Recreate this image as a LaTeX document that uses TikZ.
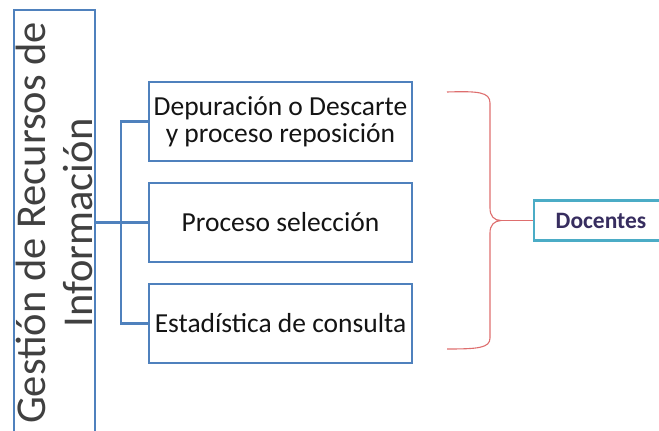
\documentclass[tikz,border=0pt]{standalone}
\usepackage{fontspec}
\setmainfont{Carlito}
\definecolor{boxblue}{RGB}{79,129,189}
\definecolor{tealc}{RGB}{75,172,198}
\definecolor{bracered}{RGB}{222,110,110}
\definecolor{gtext}{RGB}{64,64,64}
\definecolor{btext}{RGB}{20,20,20}
\definecolor{dtext}{RGB}{55,45,95}
\tikzset{
  sbox/.style={draw=boxblue, line width=2.4pt, minimum width=263pt, minimum height=79pt, inner sep=0pt, align=center, text=btext, font=\fontsize{27.5}{27}\selectfont},
  conn/.style={draw=boxblue, line width=2.4pt},
  bigbox/.style={draw=boxblue, line width=2.4pt, rotate=90, minimum width=426pt, minimum height=81pt, inner sep=0pt, align=center, text=gtext, font=\fontsize{42.5}{47}\selectfont},
  docbox/.style={draw=tealc, line width=2.4pt, minimum width=134pt, minimum height=40pt, inner sep=0pt, text=dtext, font=\fontsize{23.5}{25}\selectfont\bfseries},
  brace/.style={draw=bracered, line width=1.1pt}
}
\begin{document}
\begin{tikzpicture}[x=1pt,y=-1pt]
\useasboundingbox (0,0) rectangle (659,431);
\node[bigbox] (g) at (54.5,223) {Gestión de Recursos de\\Información};
\node[sbox] (b1) at (280.5,121.5) {Depuración o Descarte\\y proceso reposición};
\node[sbox] (b2) at (280.5,222.5) {Proceso selección};
\node[sbox] (b3) at (280.5,323.5) {Estadística de consulta};
\node[docbox] (doc) at (601,220.5) {Docentes};
\coordinate (trunk) at (121,0);
\draw[conn] (g.south |- b2.west) -- (b2.west);
\draw[conn] (b1.west) -| (trunk |- b2.west) |- (b3.west);
\coordinate (btop) at (447,92);
\coordinate (bbot) at (447,349);
\coordinate (tip) at (501,220.5);
\draw[brace] (btop) .. controls (478,91) and (490,92) .. (490,103) -- (490,208)
  .. controls (490,216) and (494,220.5) .. (tip)
  .. controls (494,221) and (490,225) .. (490,233) -- (490,338)
  .. controls (490,348) and (478,349) .. (bbot);
\draw[brace] (tip) -- (doc.west);
\end{tikzpicture}
\end{document}
